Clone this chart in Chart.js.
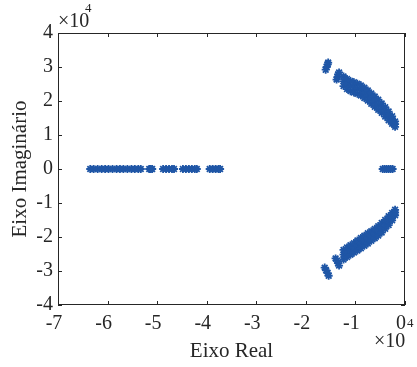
<!DOCTYPE html>
<html>
<head>
<meta charset="utf-8">
<script src="https://cdn.jsdelivr.net/npm/chart.js@4"></script>
<style>
  html, body { margin: 0; padding: 0; background: #fff; }
  #wrap { width: 417px; height: 367px; }
</style>
</head>
<body>
<div id="wrap"><canvas id="rootChart" width="417" height="367"></canvas></div>
<script>
/*
 * 데이터 (실수부, 허수부) - 단위 x10^4
 */
const xTicks = [-7, -6, -5, -4, -3, -2, -1, 0];
const yTicks = [-4, -3, -2, -1, 0, 1, 2, 3, 4];

// 실수축 위의 극점
const realAxisRe = [
  -6.35, -6.28, -6.20, -6.12, -6.05, -5.98, -5.90, -5.82, -5.75, -5.68, -5.60, -5.52, -5.45, -5.38, -5.33,
  -5.16, -5.13, -5.10,
  -4.88, -4.82, -4.76, -4.70, -4.66,
  -4.48, -4.42, -4.36, -4.30, -4.24, -4.20,
  -3.94, -3.88, -3.82, -3.76, -3.73,
  -0.45, -0.41, -0.37, -0.33, -0.29, -0.25
];

// 위쪽 가지 [실수, 허수]
const upperBranch = [
  [-1.60, 2.92], [-1.58, 3.00], [-1.56, 3.08], [-1.55, 3.13],
  [-1.38, 2.63], [-1.36, 2.71], [-1.35, 2.78], [-1.33, 2.84],
  [-1.24, 2.72], [-1.24, 2.58], [-1.24, 2.44],
  [-1.17, 2.65], [-1.17, 2.50], [-1.17, 2.35],
  [-1.10, 2.59], [-1.10, 2.44], [-1.10, 2.29],
  [-1.03, 2.55], [-1.03, 2.40], [-1.03, 2.25],
  [-0.96, 2.51], [-0.96, 2.36], [-0.96, 2.21],
  [-0.89, 2.46], [-0.89, 2.31], [-0.89, 2.16],
  [-0.82, 2.39], [-0.82, 2.24], [-0.82, 2.09],
  [-0.75, 2.31], [-0.75, 2.16], [-0.75, 2.01],
  [-0.68, 2.22], [-0.68, 2.07], [-0.68, 1.92],
  [-0.61, 2.13], [-0.61, 1.98], [-0.61, 1.83],
  [-0.54, 2.04], [-0.54, 1.89], [-0.54, 1.74],
  [-0.47, 1.93], [-0.47, 1.79], [-0.47, 1.65],
  [-0.40, 1.82], [-0.40, 1.68], [-0.40, 1.54],
  [-0.33, 1.69], [-0.33, 1.56], [-0.33, 1.43],
  [-0.26, 1.55], [-0.26, 1.44], [-0.26, 1.33],
  [-0.20, 1.40], [-0.20, 1.32], [-0.20, 1.24]
];

// 아래쪽 가지 [실수, 허수]
const lowerBranch = [
  [-1.62, -2.90], [-1.59, -2.98], [-1.56, -3.06], [-1.54, -3.14],
  [-1.40, -2.63], [-1.37, -2.70], [-1.35, -2.77], [-1.33, -2.84],
  [-1.24, -2.66], [-1.24, -2.52], [-1.24, -2.38],
  [-1.17, -2.59], [-1.17, -2.45], [-1.17, -2.31],
  [-1.10, -2.52], [-1.10, -2.38], [-1.10, -2.24],
  [-1.03, -2.46], [-1.03, -2.32], [-1.03, -2.18],
  [-0.96, -2.40], [-0.96, -2.25], [-0.96, -2.10],
  [-0.89, -2.33], [-0.89, -2.18], [-0.89, -2.03],
  [-0.82, -2.26], [-0.82, -2.11], [-0.82, -1.96],
  [-0.75, -2.19], [-0.75, -2.04], [-0.75, -1.89],
  [-0.68, -2.11], [-0.68, -1.97], [-0.68, -1.83],
  [-0.61, -2.04], [-0.61, -1.90], [-0.61, -1.76],
  [-0.54, -1.96], [-0.54, -1.82], [-0.54, -1.68],
  [-0.47, -1.87], [-0.47, -1.73], [-0.47, -1.59],
  [-0.40, -1.76], [-0.40, -1.63], [-0.40, -1.50],
  [-0.33, -1.65], [-0.33, -1.52], [-0.33, -1.39],
  [-0.26, -1.51], [-0.26, -1.40], [-0.26, -1.29],
  [-0.20, -1.36], [-0.20, -1.28], [-0.20, -1.20]
];

const poles = realAxisRe.map(re => ({ x: re, y: 0 }))
  .concat(upperBranch.map(p => ({ x: p[0], y: p[1] })))
  .concat(lowerBranch.map(p => ({ x: p[0], y: p[1] })));

const axisColor = '#262626';
const serif = '"Liberation Serif", "Times New Roman", serif';

// MATLAB 스타일 박스 + 안쪽 눈금
const boxPlugin = {
  id: 'boxPlugin',
  afterDraw(chart) {
    const ctx = chart.ctx;
    const a = chart.chartArea;
    const sx = chart.scales.x;
    const sy = chart.scales.y;
    ctx.save();
    ctx.strokeStyle = axisColor;
    ctx.lineWidth = 1;
    ctx.strokeRect(a.left + 0.5, a.top + 0.5, a.right - a.left - 1, a.bottom - a.top - 1);
    ctx.beginPath();
    xTicks.forEach(v => {
      const px = Math.round(sx.getPixelForValue(v)) + 0.5;
      ctx.moveTo(px, a.bottom); ctx.lineTo(px, a.bottom - 4);
      ctx.moveTo(px, a.top); ctx.lineTo(px, a.top + 4);
    });
    yTicks.forEach(v => {
      const py = Math.round(sy.getPixelForValue(v)) + 0.5;
      ctx.moveTo(a.left, py); ctx.lineTo(a.left + 4, py);
      ctx.moveTo(a.right, py); ctx.lineTo(a.right - 4, py);
    });
    ctx.stroke();

    // x10^4 표시
    ctx.fillStyle = axisColor;
    ctx.textBaseline = 'alphabetic';
    ctx.textAlign = 'left';
    ctx.font = '20px ' + serif;
    ctx.fillText('\u00d710', a.left, a.top - 6);
    ctx.font = '13px ' + serif;
    ctx.fillText('4', a.left + 27, a.top - 21);
    ctx.font = '20px ' + serif;
    ctx.fillText('\u00d710', a.right - 31, a.bottom + 42);
    ctx.font = '13px ' + serif;
    ctx.fillText('4', a.right + 2, a.bottom + 22);
    ctx.restore();
  }
};

new Chart(document.getElementById('rootChart'), {
  type: 'scatter',
  data: {
    datasets: [{
      label: 'Polos',
      data: poles,
      pointStyle: 'star',
      radius: 4,
      borderWidth: 1.8,
      borderColor: '#1f56a6',
      backgroundColor: '#1f56a6',
      showLine: false
    }]
  },
  options: {
    responsive: false,
    animation: false,
    events: [],
    layout: { padding: { top: 33, right: 11, bottom: 0, left: 0 } },
    plugins: {
      legend: { display: false },
      tooltip: { enabled: false }
    },
    scales: {
      x: {
        type: 'linear',
        min: -7,
        max: 0,
        afterBuildTicks: s => { s.ticks = xTicks.map(v => ({ value: v })); },
        afterFit: s => { s.height = 62; },
        grid: { display: false, drawTicks: false, tickLength: 0 },
        border: { display: false },
        ticks: {
          padding: 7,
          labelOffset: -4,
          color: axisColor,
          font: { family: serif, size: 20 },
          callback: v => String(v)
        },
        title: {
          display: true,
          text: 'Eixo Real',
          color: axisColor,
          font: { family: serif, size: 21 },
          padding: { top: 0, bottom: 3 }
        }
      },
      y: {
        type: 'linear',
        min: -4,
        max: 4,
        afterBuildTicks: s => { s.ticks = yTicks.map(v => ({ value: v })); },
        afterFit: s => { s.width = 58; },
        grid: { display: false, drawTicks: false, tickLength: 0 },
        border: { display: false },
        ticks: {
          padding: 5,
          color: axisColor,
          font: { family: serif, size: 20 },
          callback: v => String(v)
        },
        title: {
          display: true,
          text: 'Eixo Imaginário',
          color: axisColor,
          font: { family: serif, size: 21 },
          padding: { top: 8, bottom: 0 }
        }
      }
    }
  },
  plugins: [boxPlugin]
});
</script>
</body>
</html>
